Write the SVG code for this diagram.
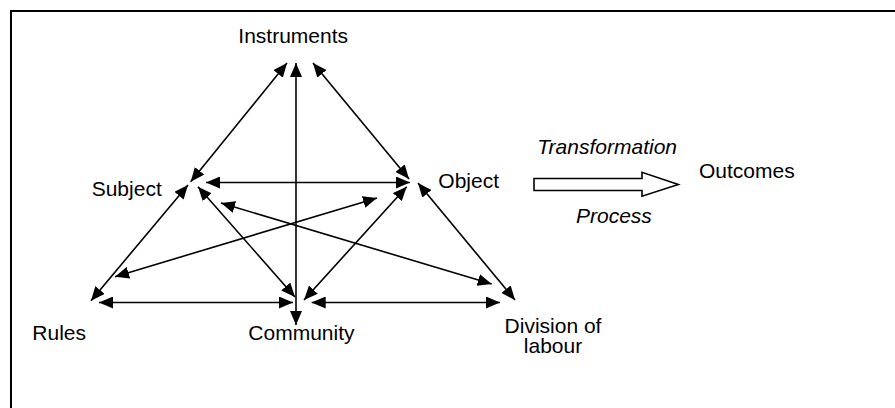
<svg xmlns="http://www.w3.org/2000/svg" width="895" height="408" viewBox="0 0 895 408">
<style>
text{font-family:"Liberation Sans",Arial,sans-serif;font-size:21px;fill:#000}
.it{font-style:italic}
.c line{stroke:#000;stroke-width:1.6;marker-start:url(#ah);marker-end:url(#ah)}
</style>
<defs>
<marker id="ah" viewBox="0 0 14 12" refX="14" refY="6" markerWidth="14" markerHeight="12" markerUnits="userSpaceOnUse" orient="auto-start-reverse">
<path d="M0,0 L14,6 L0,12 Z" fill="#000"/>
</marker>
</defs>
<rect x="0" y="0" width="895" height="408" fill="#fff"/>
<rect x="11" y="11" width="900" height="420" fill="none" stroke="#000" stroke-width="2"/>
<g class="c" id="connectors">
<line x1="287" y1="63" x2="190.7" y2="181.7"/>
<line x1="296" y1="63" x2="296" y2="325"/>
<line x1="313" y1="63" x2="409" y2="179"/>
<line x1="206" y1="182.5" x2="410" y2="182.5"/>
<line x1="188" y1="185" x2="91" y2="300.7"/>
<line x1="198" y1="186.7" x2="295" y2="297"/>
<line x1="221" y1="203" x2="491.7" y2="284"/>
<line x1="115" y1="276.7" x2="377" y2="198"/>
<line x1="99" y1="302.5" x2="293" y2="302.5"/>
<line x1="304" y1="300" x2="406.7" y2="186.7"/>
<line x1="311.7" y1="302.5" x2="500" y2="302.5"/>
<line x1="418" y1="183" x2="515" y2="300"/>
</g>
<g id="instruments"><text x="238.3" y="43">Instruments</text></g>
<g id="subject"><text x="91.7" y="196">Subject</text></g>
<g id="object"><text x="438.3" y="188">Object</text></g>
<g id="rules"><text x="86" y="340" text-anchor="end">Rules</text></g>
<g id="community"><text x="248.3" y="340">Community</text></g>
<g id="division"><text x="553" y="333" text-anchor="middle">Division of</text><text x="553" y="353" text-anchor="middle">labour</text></g>
<g id="transformation">
<path d="M534,178.5 H642 V172.3 L678.3,184.5 L642,196.2 V190.5 H534 Z" fill="#fff" stroke="#000" stroke-width="1.6"/>
<text class="it" x="677" y="154" text-anchor="end">Transformation</text>
<text class="it" x="576" y="223">Process</text>
</g>
<g id="outcomes"><text x="699" y="178">Outcomes</text></g>
</svg>
